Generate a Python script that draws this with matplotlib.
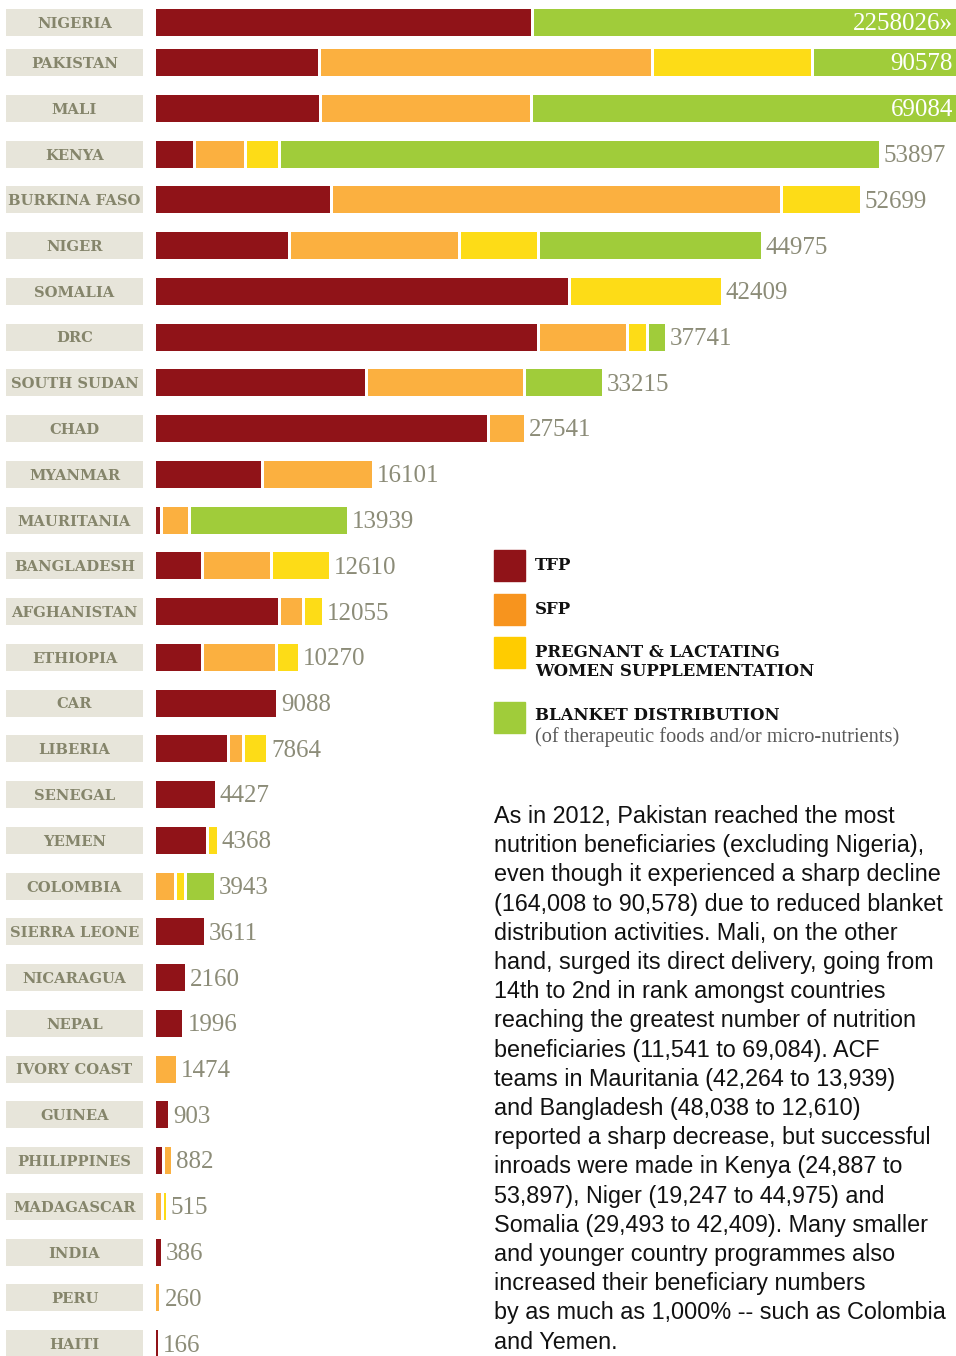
import numpy as np
import matplotlib.pyplot as plt
from matplotlib.patches import Rectangle

# dados (beneficiarios por tipo de programa)
countries = ["NIGERIA", "PAKISTAN", "MALI", "KENYA", "BURKINA FASO", "NIGER",
             "SOMALIA", "DRC", "SOUTH SUDAN", "CHAD", "MYANMAR", "MAURITANIA",
             "BANGLADESH", "AFGHANISTAN", "ETHIOPIA", "CAR", "LIBERIA", "SENEGAL",
             "YEMEN", "COLOMBIA", "SIERRA LEONE", "NICARAGUA", "NEPAL",
             "IVORY COAST", "GUINEA", "PHILIPPINES", "MADAGASCAR", "INDIA",
             "PERU", "HAITI"]
totals = [2258026, 90578, 69084, 53897, 52699, 44975, 42409, 37741, 33215,
          27541, 16101, 13939, 12610, 12055, 10270, 9088, 7864, 4427, 4368,
          3943, 3611, 2160, 1996, 1474, 903, 882, 515, 386, 260, 166]
tfp = [28300, 12230, 12300, 2800, 13140, 9980, 31100, 28740, 15810, 24990,
       7930, 300, 3400, 9210, 3400, 9088, 5360, 4427, 3780, 0, 3611, 2160,
       1996, 0, 903, 470, 0, 386, 0, 166]
sfp = [0, 24900, 15700, 3620, 33750, 12590, 0, 6535, 11680, 2551,
       8171, 1890, 4980, 1590, 5360, 0, 910, 0, 0, 1360, 0, 0,
       0, 1474, 0, 412, 400, 0, 260, 0]
plw = [0, 11850, 0, 2340, 5809, 5750, 11309, 1233, 0, 0,
       0, 0, 4230, 1255, 1510, 0, 1594, 0, 588, 530, 0, 0,
       0, 0, 0, 0, 115, 0, 0, 0]
blanket = [2229726, 41598, 41084, 45137, 0, 16655, 0, 1233, 5725, 0,
           0, 11749, 0, 0, 0, 0, 0, 0, 0, 2053, 0, 0,
           0, 0, 0, 0, 0, 0, 0, 0]

legend_labels = ["TFP", "SFP", "PREGNANT & LACTATING\nWOMEN SUPPLEMENTATION",
                 "BLANKET DISTRIBUTION"]
legend_note = "(of therapeutic foods and/or micro-nutrients)"

body = ["As in 2012, Pakistan reached the most",
        "nutrition beneficiaries (excluding Nigeria),",
        "even though it experienced a sharp decline",
        "(164,008 to 90,578) due to reduced blanket",
        "distribution activities. Mali, on the other",
        "hand, surged its direct delivery, going from",
        "14th to 2nd in rank amongst countries",
        "reaching the greatest number of nutrition",
        "beneficiaries (11,541 to 69,084). ACF",
        "teams in Mauritania (42,264 to 13,939)",
        "and Bangladesh (48,038 to 12,610)",
        "reported a sharp decrease, but successful",
        "inroads were made in Kenya (24,887 to",
        "53,897), Niger (19,247 to 44,975) and",
        "Somalia (29,493 to 42,409). Many smaller",
        "and younger country programmes also",
        "increased their beneficiary numbers",
        "by as much as 1,000% -- such as Colombia",
        "and Yemen."]

bar_colors = ["#901318", "#fbb040", "#fddc17", "#a0cc3a"]
legend_colors = ["#901318", "#f7941e", "#ffcc00", "#a0cc3a"]
label_col = "#85856b"
value_col = "#8c8c78"

W, H = 956, 1356
XMAX = 60400           # unidades que cabem na largura do grafico
PX = XMAX / 800        # unidades por pixel
GAP = 3 * PX

ypos = np.array([22.5] + [62.5 + 45.75 * i for i in range(len(countries) - 1)])

fig = plt.figure(figsize=(W / 100, H / 100), dpi=100)

# caixas com nomes dos paises
lax = fig.add_axes([6 / W, 0, 137 / W, 1])
lax.set_xlim(0, 1)
lax.set_ylim(H, 0)
lax.axis("off")
lax.barh(ypos, 1, height=27, color="#e7e5da")
for y, c in zip(ypos, countries):
    lax.text(0.5, y + 1.5, c, ha="center", va="center", family="DejaVu Serif",
             weight="bold", fontsize=10.6, color=label_col)

# barras empilhadas
ax = fig.add_axes([156 / W, 0, 800 / W, 1])
ax.set_xlim(0, XMAX)
ax.set_ylim(H, 0)
ax.axis("off")

series = np.array([tfp, sfp, plw, blanket], dtype=float)
left = np.zeros(len(countries))
count = np.zeros(len(countries))
for vals, col in zip(series, bar_colors):
    lefts = left + count * GAP
    mask = vals > 0
    ax.barh(ypos[mask], vals[mask], left=lefts[mask], height=27, color=col)
    left += vals
    count += mask

ends = left + (count - 1) * GAP
for i, (y, t) in enumerate(zip(ypos, totals)):
    if ends[i] > XMAX:
        txt = f"{t}\u00bb" if i == 0 else str(t)
        ax.text(XMAX - 3 * PX, y + 2, txt, ha="right", va="center",
                family="Liberation Serif", fontsize=18, color="white")
    else:
        ax.text(ends[i] + 5 * PX, y + 2, str(t), ha="left", va="center",
                family="Liberation Serif", fontsize=18, color=value_col)

# legenda e texto
ov = fig.add_axes([0, 0, 1, 1])
ov.set_xlim(0, W)
ov.set_ylim(H, 0)
ov.axis("off")
ov.patch.set_alpha(0)
leg_y = [565.5, 609, 652.5, 717.5]
txt_y = [566, 609, 662, 716]
for ly, ty, col, lab in zip(leg_y, txt_y, legend_colors, legend_labels):
    ov.add_patch(Rectangle((494, ly - 15.5), 31, 31, color=col))
    ov.text(535, ty, lab, ha="left", va="center", family="DejaVu Serif",
            weight="bold", fontsize=11.9, color="#111111", linespacing=1.2)
ov.text(535, 737, legend_note, ha="left", va="center", family="Liberation Serif",
        fontsize=14.7, color="#5a5a5a")

for k, line in enumerate(body):
    ov.text(494, 823 + 29.2 * k, line, ha="left", va="baseline",
            family="Liberation Sans", fontsize=16.8, color="#111111")

fig.savefig("out.png", dpi=100)
